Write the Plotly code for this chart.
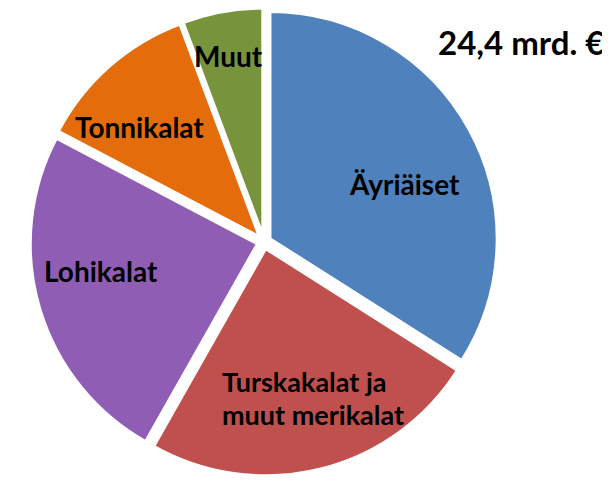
import plotly.graph_objects as go

labels = ["Äyriäiset", "Turskakalat ja<br>muut merikalat", "Lohikalat", "Tonnikalat", "Muut"]
values = [34.0, 24.2, 24.5, 11.6, 5.7]
colors = ["#4F81BD", "#C0504D", "#8F5EB4", "#E46C0A", "#77933C"]
total_label = "24,4 mrd. €"

# label placement (pixel positions in the 610x494 canvas) and anchors
label_pos = [(396, 176), (212, 373), (93, 263), (131, 119), (220, 48)]
label_anchor = ["center", "left", "center", "center", "center"]
LINE_GAP = 33

W, H = 610, 494
FONT = "Lato, Open Sans, sans-serif"

fig = go.Figure(go.Pie(
    labels=labels,
    values=values,
    sort=False,
    direction="clockwise",
    rotation=0,
    marker=dict(colors=colors, line=dict(color="white", width=3)),
    pull=[0.03] * 5,
    textinfo="none",
    hoverinfo="label+percent",
    domain=dict(x=[0 / W, 512 / W], y=[1 - 468 / H, 1 - 0 / H]),
    showlegend=False,
))

for lab, (px, py), anc in zip(labels, label_pos, label_anchor):
    for i, line in enumerate(lab.split("<br>")):
        fig.add_annotation(
            text=line, x=px / W, y=1 - (py + i * LINE_GAP) / H, xref="paper", yref="paper",
            xanchor=anc, yanchor="middle", align="left", showarrow=False,
            font=dict(family=FONT, size=28 if i == 0 and "<br>" not in lab else 27,
                      color="black", weight="bold"),
        )

fig.add_annotation(
    text=total_label, x=598 / W, y=1 - 34 / H, xref="paper", yref="paper",
    xanchor="right", yanchor="middle", showarrow=False,
    font=dict(family=FONT, size=33, color="black", weight="bold"),
)

fig.update_layout(
    width=W, height=H,
    margin=dict(l=0, r=0, t=0, b=0),
    paper_bgcolor="white",
    plot_bgcolor="white",
)

fig.write_html("out.html")
